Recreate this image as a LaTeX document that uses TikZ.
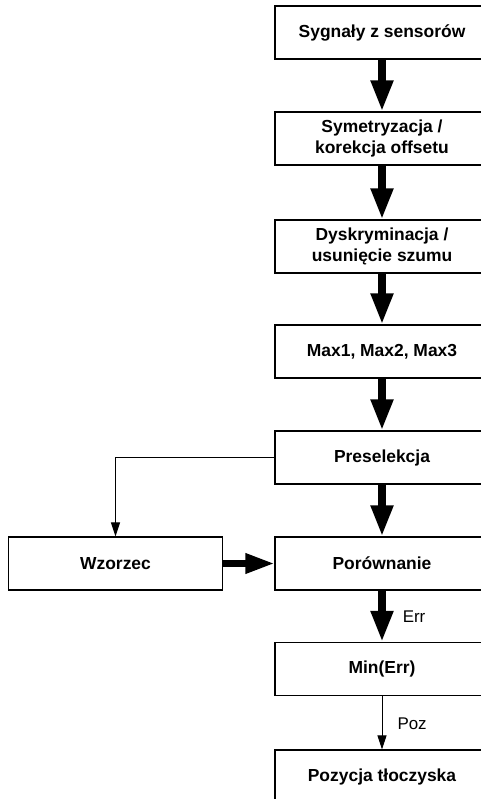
\documentclass[tikz,border=0pt]{standalone}
\usepackage{fontspec}
\setmainfont{Liberation Sans}
\usetikzlibrary{arrows.meta}
\tikzset{
  blk/.style={draw=black, line width=1.2bp, fill=white, minimum width=214bp, minimum height=53bp,
    inner sep=0pt, align=center, font=\bfseries\fontsize{17.5}{21.5}\selectfont},
  thick arrow/.style={line width=7.5bp, -{Triangle[length=31bp,width=21bp]}},
  thin arrow/.style={line width=1bp, -{Triangle[length=14bp,width=9bp]}},
  lbl/.style={font=\fontsize{17}{20}\selectfont, anchor=west, inner sep=0pt}
}
\begin{document}
\begin{tikzpicture}[x=1bp,y=-1bp]
\useasboundingbox (0,0) rectangle (481,799);
\clip (0,0) rectangle (481,799);
\node[blk] (b1) at (382,32.5) {Sygnały z sensorów};
\node[blk] (b2) at (382,138.5) {Symetryzacja /\\korekcja offsetu};
\node[blk] (b3) at (382,246.5) {Dyskryminacja /\\usunięcie szumu};
\node[blk] (b4) at (382,351.5) {Max1, Max2, Max3};
\node[blk] (b5) at (382,457.5) {Preselekcja};
\node[blk] (b6) at (382,563.5) {Porównanie};
\node[blk] (w) at (115.5,563.5) {Wzorzec};
\node[blk] (b7) at (382,669) {Min(Err)};
\node[blk] (b8) at (382,776.5) {Pozycja tłoczyska};
\coordinate (c1) at (115.5,457.5);
\draw[thick arrow] (b1) -- (b2);
\draw[thick arrow] (b2) -- (b3);
\draw[thick arrow] (b3) -- (b4);
\draw[thick arrow] (b4) -- (b5);
\draw[thick arrow] (b5) -- (b6);
\draw[line width=6.5bp, -{Triangle[length=29bp,width=19bp]}] (w) -- (b6);
\draw[thin arrow] (b5.west) -- (c1) -- (w.north);
\draw[thick arrow] (b6) -- node[lbl, pos=0.5, xshift=17bp] (err) {Err} (b7);
\draw[thin arrow] (b7) -- node[lbl, pos=0.52, xshift=15bp] (poz) {Poz} (b8);
\end{tikzpicture}
\end{document}
